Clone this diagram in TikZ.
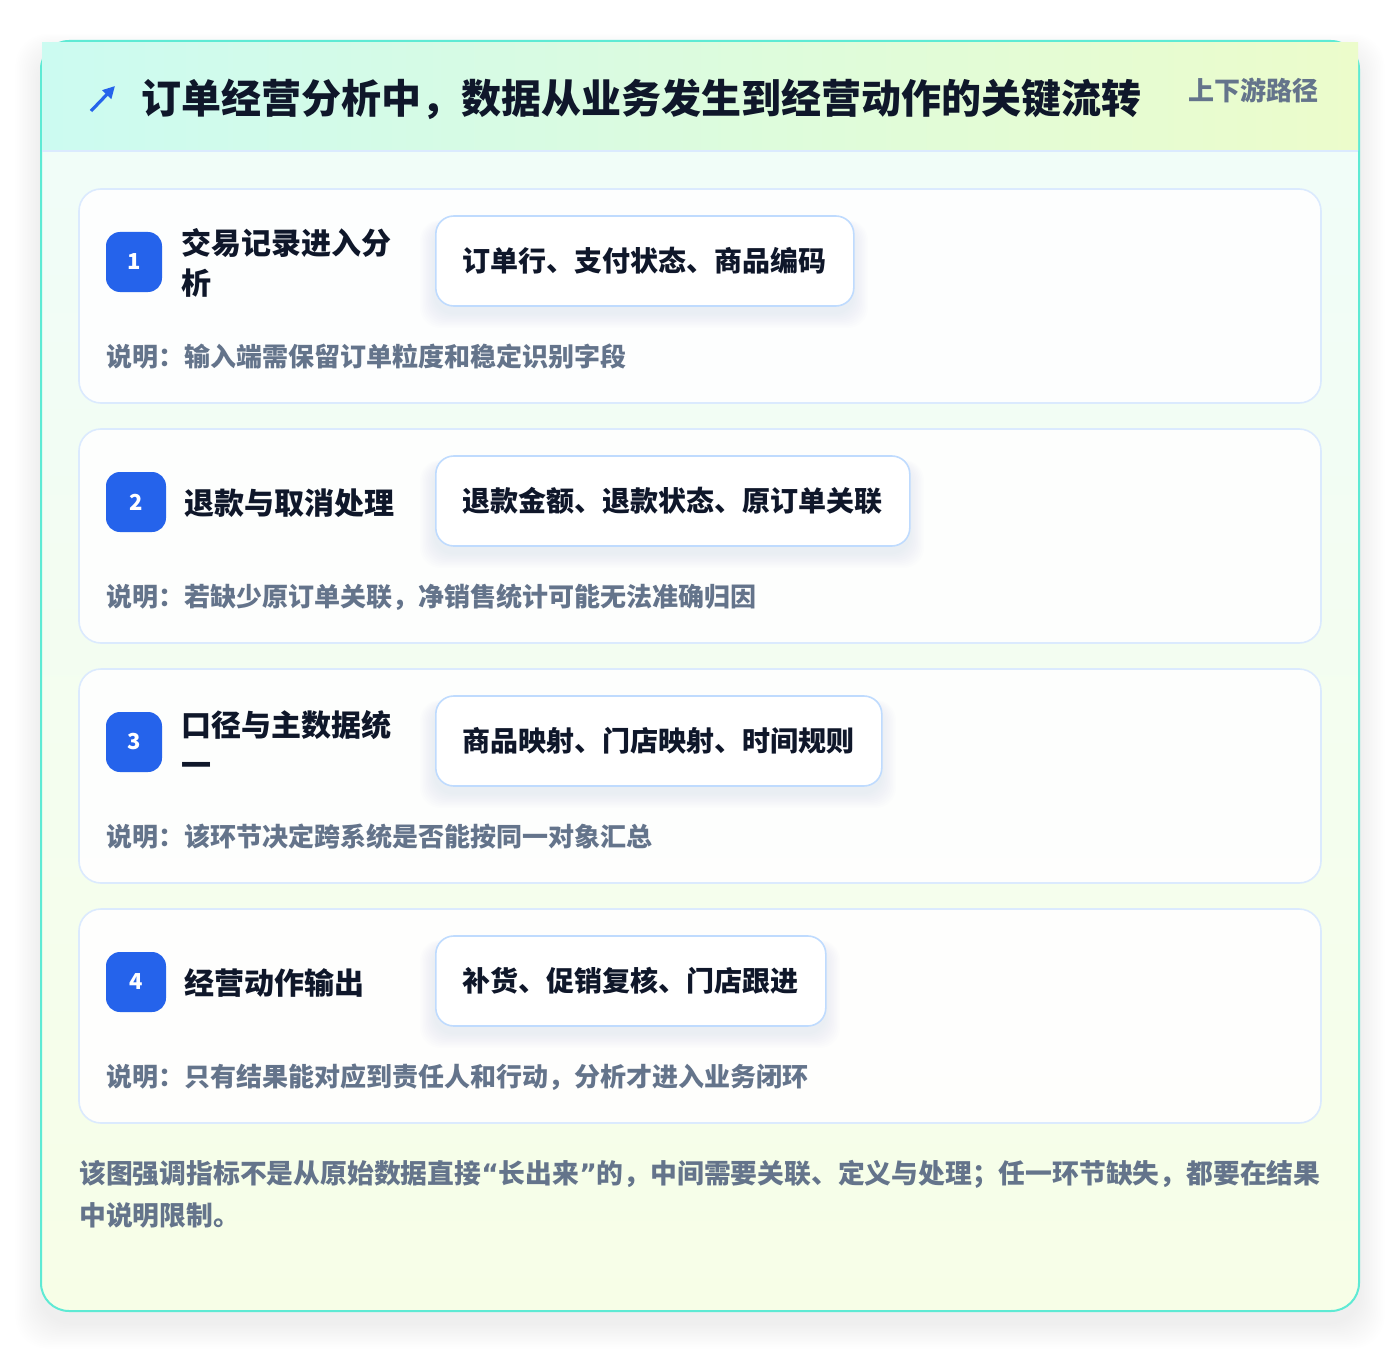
\documentclass[tikz,border=0pt]{standalone}
\usepackage{fontspec}
\setmainfont{Noto Sans CJK SC}
\newfontfamily\quotefont{DejaVu Sans}
\usetikzlibrary{arrows.meta}
\definecolor{ink}{HTML}{0F172A}
\definecolor{muted}{HTML}{64748B}
\definecolor{badgeblue}{HTML}{2563EB}
\definecolor{cardline}{HTML}{DBEAFE}
\definecolor{chipline}{HTML}{BFDBFE}
\definecolor{tealline}{HTML}{5EEAD4}
\definecolor{hdrL}{HTML}{CCFBF1}
\definecolor{hdrR}{HTML}{ECFCCB}
\definecolor{bodyT}{HTML}{F0FDFA}
\definecolor{bodyB}{HTML}{F7FEE7}
\definecolor{shadowc}{HTML}{64748B}
\newcommand{\myopenq}{{\quotefont\bfseries “}}
\newcommand{\mycloseq}{{\quotefont\bfseries ”}}
\begin{document}
\begin{tikzpicture}[x=0.75pt,y=-0.75pt,
  cardbox/.style={draw=cardline, line width=1.2pt, fill=white, fill opacity=0.9, rounded corners=16.5pt},
  badgebox/.style={fill=badgeblue, rounded corners=10.5pt, minimum height=45pt, inner sep=0pt,
    text=white, font=\bfseries\fontsize{16.5pt}{18pt}\selectfont},
  steptitle/.style={anchor=west, inner sep=0pt, align=left, text=ink,
    font=\bfseries\fontsize{22.5pt}{30pt}\selectfont},
  chipbox/.style={draw=chipline, line width=1.2pt, fill=white, rounded corners=13.5pt,
    minimum height=67.5pt, inner sep=0pt, anchor=west, text=ink,
    font=\bfseries\fontsize{21pt}{24pt}\selectfont},
  notetext/.style={anchor=west, inner sep=0pt, text=muted, font=\bfseries\fontsize{19.5pt}{24pt}\selectfont}]
\useasboundingbox (0,0) rectangle (1400,1352);
\fill[white] (0,0) rectangle (1400,1352);
% outer shadow
\foreach \k in {1,...,16}{
  \fill[black, opacity=0.005, rounded corners=24pt] (41-1.6*\k, 41-1.2*\k+12) rectangle (1359+1.6*\k, 1311+1.6*\k+12);
}
% outer card
\path[rounded corners=21pt, top color=bodyT, bottom color=bodyB, draw=tealline, line width=1.5pt]
  (41,41) rectangle (1359,1311);
% header
\fill[left color=hdrL, right color=hdrR] (42,43) rectangle (1358,151);
\draw[cardline, line width=1.2pt] (42,151) -- (1358,151);
\coordinate (iconA) at (91,111);
\coordinate (iconB) at (115,86);
\draw[badgeblue, line width=2.4pt, -{Triangle[length=9pt,width=9pt]}] (iconA) -- (iconB);
\node[anchor=west, inner sep=0pt, text=ink, font=\bfseries\fontsize{30pt}{34pt}\selectfont] (title) at (141,99)
  {订单经营分析中，数据从业务发生到经营动作的关键流转};
\node[anchor=west, inner sep=0pt, text=muted, font=\bfseries\fontsize{19.5pt}{22pt}\selectfont] (sub) at (1188,90)
  {上下游路径};
% cards
\foreach \i/\bw/\tx/\ttl/\cw/\chip/\note in {
  1/56/181/{交易记录进入分\\析}/418/{订单行、支付状态、商品编码}/{说明：输入端需保留订单粒度和稳定识别字段},
  2/60/184/{退款与取消处理}/474/{退款金额、退款状态、原订单关联}/{说明：若缺少原订单关联，净销售统计可能无法准确归因},
  3/56/181/{口径与主数据统\\一}/446/{商品映射、门店映射、时间规则}/{说明：该环节决定跨系统是否能按同一对象汇总},
  4/60/184/{经营动作输出}/390/{补货、促销复核、门店跟进}/{说明：只有结果能对应到责任人和行动，分析才进入业务闭环}}{
  \pgfmathsetmacro{\t}{189+240*(\i-1)}
  \draw[cardbox] (79,\t) rectangle (1321,\t+214);
  % chip shadow
  \foreach \s in {1,...,10}{
    \fill[shadowc, opacity=0.006, rounded corners=15pt] (435-1.5*\s,\t+28-0.5*\s+8) rectangle (435+\cw+1.5*\s,\t+118+1.5*\s+6);
  }
  \node[badgebox, minimum width=\bw*0.75pt] (badge\i) at (106+\bw/2,\t+73) {\i};
  \node[steptitle] (ttl\i) at (\tx,\t+74) {\ttl};
  \node[chipbox, minimum width=\cw*0.75pt] (chip\i) at (435,\t+72) {\chip};
  \node[notetext] (note\i) at (106,\t+168) {\note};
}
% footer
\node[anchor=north west, inner sep=0pt, align=left, text=muted, font=\bfseries\fontsize{20.1pt}{31.5pt}\selectfont] (foot) at (79,1160)
  {该图强调指标不是从原始数据直接\myopenq 长出来\mycloseq 的，中间需要关联、定义与处理；任一环节缺失，都要在结果\\中说明限制。};
\end{tikzpicture}
\end{document}
